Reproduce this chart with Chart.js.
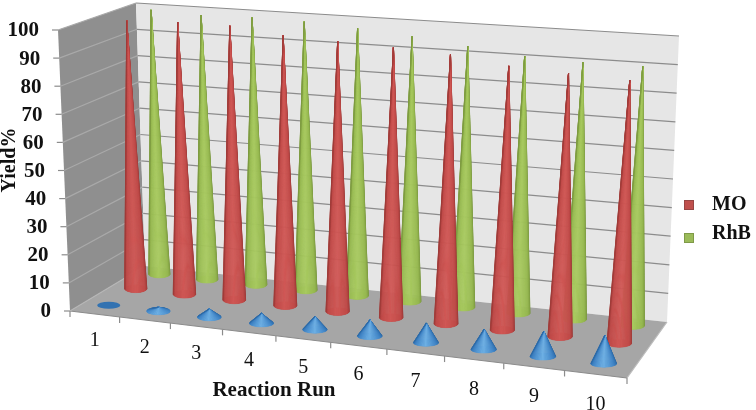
<!DOCTYPE html>
<html lang="en">
<head>
    <meta charset="UTF-8">
    <title>Yield per reaction run</title>
    <script src="https://cdnjs.cloudflare.com/ajax/libs/Chart.js/4.4.1/chart.umd.min.js"></script>
    <style>
        html, body { margin: 0; padding: 0; background: #fff; }
        canvas { display: block; }
    </style>
</head>
<body>
    <canvas id="myChart" width="756" height="410"></canvas>

    <script>
        const categories = ['1', '2', '3', '4', '5', '6', '7', '8', '9', '10'];
        const moValues = [98.3, 99, 98.8, 96.6, 95.8, 95, 93.9, 91.4, 90.3, 89.6];
        const rhbValues = [99.1, 98.3, 98.5, 98.1, 96.9, 95.3, 93.1, 90.9, 90.2, 90.2];
        const thirdValues = [0.4, 1.4, 2.9, 3.5, 4.6, 5.6, 6.7, 6.9, 8.5, 9.4];

        // corners of the 3D floor: front-left, front-right, back-right, back-left
        const floorQuad = [[70, 311], [627, 378], [667, 322], [145, 266]];
        // where the 100 level sits relative to each floor corner
        const riseQuad = [[-12, -281], [14, -305], [12, -286], [-9, -263]];

        function quadPoint(q, u, v) {
            // unit square to quad (homography)
            const dx1 = q[1][0] - q[2][0], dx2 = q[3][0] - q[2][0], sx = q[0][0] - q[1][0] + q[2][0] - q[3][0];
            const dy1 = q[1][1] - q[2][1], dy2 = q[3][1] - q[2][1], sy = q[0][1] - q[1][1] + q[2][1] - q[3][1];
            const det = dx1 * dy2 - dx2 * dy1;
            const g = (sx * dy2 - dx2 * sy) / det;
            const h = (dx1 * sy - sx * dy1) / det;
            const a = q[1][0] - q[0][0] + g * q[1][0], b = q[3][0] - q[0][0] + h * q[3][0];
            const d = q[1][1] - q[0][1] + g * q[1][1], e = q[3][1] - q[0][1] + h * q[3][1];
            const w = g * u + h * v + 1;
            return [(a * u + b * v + q[0][0]) / w, (d * u + e * v + q[0][1]) / w];
        }

        function project(u, v, t) {
            const f = quadPoint(floorQuad, u, v);
            const r = riseQuad;
            const rise = [0, 1].map(k =>
                (1 - v) * ((1 - u) * r[0][k] + u * r[1][k]) + v * (u * r[2][k] + (1 - u) * r[3][k]));
            return [f[0] + rise[0] * t, f[1] + rise[1] * t];
        }

        function line(ctx, a, b, color) {
            ctx.strokeStyle = color;
            ctx.beginPath();
            ctx.moveTo(a[0], a[1]);
            ctx.lineTo(b[0], b[1]);
            ctx.stroke();
        }

        function poly(ctx, pts, color) {
            ctx.fillStyle = color;
            ctx.beginPath();
            pts.forEach((p, i) => i ? ctx.lineTo(p[0], p[1]) : ctx.moveTo(p[0], p[1]));
            ctx.closePath();
            ctx.fill();
        }

        function mix(c1, c2, t) {
            return 'rgb(' + c1.map((c, i) => Math.round(c + (c2[i] - c) * t)).join(',') + ')';
        }

        function drawCone(ctx, base, tip, rx, ry, shade) {
            const height = base[1] - tip[1];
            ctx.fillStyle = mix(shade.dark, shade.mid, 0.5);
            ctx.beginPath();
            ctx.ellipse(base[0], base[1], rx, ry, 0, 0, Math.PI * 2);
            ctx.fill();
            if (height <= ry) return;
            const extra = Math.asin(ry / height);
            const steps = 28;
            ctx.lineWidth = 0.6;
            for (let k = 0; k < steps; k++) {
                const a0 = -extra + (Math.PI + 2 * extra) * k / steps;
                const a1 = -extra + (Math.PI + 2 * extra) * (k + 1) / steps;
                // s runs from the right edge round the front to the left edge
                const s = (k + 0.5) / steps;
                const d = Math.abs(s - 0.52) * 2;
                let color;
                if (d < 0.6) color = mix(shade.light, shade.mid, d / 0.6);
                else color = mix(shade.mid, shade.dark, (d - 0.6) / 0.4);
                const p0 = [base[0] + rx * Math.cos(a0), base[1] + ry * Math.sin(a0)];
                const p1 = [base[0] + rx * Math.cos(a1), base[1] + ry * Math.sin(a1)];
                ctx.fillStyle = color;
                ctx.strokeStyle = color;
                ctx.beginPath();
                ctx.moveTo(tip[0], tip[1]);
                ctx.lineTo(p0[0], p0[1]);
                ctx.lineTo(p1[0], p1[1]);
                ctx.closePath();
                ctx.fill();
                ctx.stroke();
            }
        }

        const shades = {
            MO: { dark: [150, 54, 52], mid: [192, 74, 72], light: [208, 88, 85] },
            RhB: { dark: [118, 146, 60], mid: [150, 184, 80], light: [168, 202, 96] },
            third: { dark: [38, 98, 158], mid: [62, 130, 196], light: [110, 176, 228] }
        };

        const cone3dPlugin = {
            id: 'cone3d',
            beforeDatasetsDraw(chart) {
                const ctx = chart.ctx;
                const x = chart.scales.x;
                const y = chart.scales.y;
                const level = v => (y.bottom - y.getPixelForValue(v)) / y.height;

                ctx.save();
                // walls and floor
                poly(ctx, [project(0, 0, 0), project(0, 1, 0), project(0, 1, 1), project(0, 0, 1)], '#8f8f8f');
                poly(ctx, [project(0, 1, 0), project(1, 1, 0), project(1, 1, 1), project(0, 1, 1)], '#e6e6e6');
                poly(ctx, [project(0, 0, 0), project(1, 0, 0), project(1, 1, 0), project(0, 1, 0)], '#a6a6a6');

                // gridlines and value ticks
                ctx.lineWidth = 1.2;
                y.ticks.forEach(tick => {
                    const t = level(tick.value);
                    const a = project(0, 0, t), b = project(0, 1, t), c = project(1, 1, t);
                    if (tick.value > 0) {
                        line(ctx, a, b, '#a9a9a9');
                        line(ctx, b, c, '#8c8c8c');
                    }
                    line(ctx, a, [a[0] - 6, a[1]], '#8c8c8c');
                    ctx.fillStyle = '#111';
                    ctx.font = 'bold 21px "Liberation Serif"';
                    ctx.textAlign = 'right';
                    ctx.textBaseline = 'middle';
                    ctx.fillText(String(tick.value), a[0] - 19, a[1] + 1);
                });

                // category ticks along the front edge
                line(ctx, project(0, 0, 0), project(1, 0, 0), '#8c8c8c');
                line(ctx, project(0, 0, 0), project(0, 1, 0), '#b5b5b5');
                line(ctx, project(1, 0, 0), project(1, 1, 0), '#bdbdbd');
                for (let k = 0; k <= categories.length; k++) {
                    const p = project(k / categories.length, 0, 0);
                    line(ctx, p, [p[0], p[1] + 6], '#8c8c8c');
                }
                ctx.font = '20px "Liberation Serif"';
                ctx.textAlign = 'center';
                ctx.fillStyle = '#111';
                categories.forEach((label, i) => {
                    const u = (x.getPixelForValue(i) - x.left) / x.width;
                    const p = project(u, 0, 0);
                    ctx.fillText(label, p[0], p[1] + 27 + 4 * u);
                });

                // cones, back row first
                const rows = [
                    { data: chart.data.datasets[1].data, v: 0.87, shade: shades.RhB, rx: 10.5, ry: 3.8 },
                    { data: chart.data.datasets[0].data, v: 0.54, shade: shades.MO, rx: 11, ry: 4 },
                    { data: chart.data.datasets[2].data, v: 0.18, shade: shades.third, rx: 11.5, ry: 3.6 }
                ];
                rows.forEach(row => {
                    row.data.forEach((value, i) => {
                        const u = (x.getPixelForValue(i) - x.left) / x.width;
                        const grow = 1 + 0.12 * u;
                        drawCone(ctx, project(u, row.v, 0), project(u, row.v, level(value)), row.rx * grow, row.ry, row.shade);
                    });
                });

                // axis titles
                ctx.fillStyle = '#111';
                ctx.font = 'bold 21px "Liberation Serif"';
                ctx.textAlign = 'center';
                ctx.fillText(x.options.title.text, 274, 391);
                ctx.save();
                ctx.translate(10, 160);
                ctx.rotate(-Math.PI / 2);
                ctx.font = 'bold 20px "Liberation Serif"';
                ctx.fillText(y.options.title.text, 0, 0);
                ctx.restore();

                // legend, only the two named series
                [chart.data.datasets[0], chart.data.datasets[1]].forEach((ds, i) => {
                    const ly = 205 + i * 33;
                    ctx.fillStyle = ds.backgroundColor;
                    ctx.strokeStyle = ds.borderColor;
                    ctx.lineWidth = 1;
                    ctx.fillRect(684.5, ly - 4.5, 9, 9);
                    ctx.strokeRect(684.5, ly - 4.5, 9, 9);
                    ctx.fillStyle = '#111';
                    ctx.font = 'bold 20px "Liberation Serif"';
                    ctx.textAlign = 'left';
                    ctx.fillText(ds.label, 712, i ? 234 : 205);
                });
                ctx.restore();

                return false;
            }
        };

        const ctx = document.getElementById('myChart').getContext('2d');
        const myChart = new Chart(ctx, {
            type: 'bar',
            data: {
                labels: categories,
                datasets: [
                    { label: 'MO', data: moValues, backgroundColor: '#c0504d', borderColor: '#984644' },
                    { label: 'RhB', data: rhbValues, backgroundColor: '#9bbb59', borderColor: '#7f9a48' },
                    { label: 'Third', data: thirdValues, backgroundColor: '#4f94d0', borderColor: '#2e6fa8' }
                ]
            },
            plugins: [cone3dPlugin],
            options: {
                responsive: false,
                animation: false,
                layout: { padding: { left: 70, right: 129, top: 30, bottom: 99 } },
                plugins: { legend: { display: false }, tooltip: { enabled: false } },
                scales: {
                    x: { display: false, title: { text: 'Reaction Run' } },
                    y: { display: false, min: 0, max: 100, ticks: { stepSize: 10 }, title: { text: 'Yield%' } }
                }
            }
        });
    </script>
</body>
</html>
